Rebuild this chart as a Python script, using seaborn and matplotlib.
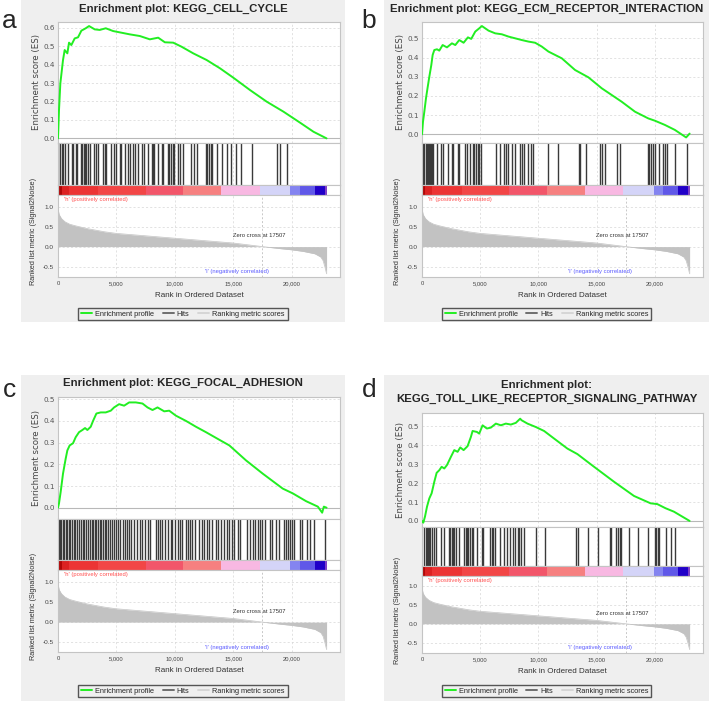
import matplotlib
matplotlib.use("Agg")
import matplotlib.pyplot as plt
import numpy as np
import seaborn as sns
from matplotlib.lines import Line2D
from matplotlib.patches import Rectangle

W, H = 709, 701

PANEL_LABELS = ["a", "b", "c", "d"]
TITLES = [
    "Enrichment plot: KEGG_CELL_CYCLE",
    "Enrichment plot: KEGG_ECM_RECEPTOR_INTERACTION",
    "Enrichment plot: KEGG_FOCAL_ADHESION",
    "Enrichment plot:\nKEGG_TOLL_LIKE_RECEPTOR_SIGNALING_PATHWAY",
]

# running enrichment score
ES_RANK_A = [0, 86, 200, 429, 572, 801, 944, 1144, 1430, 1716, 2002, 2374, 2660, 3146, 3575, 4090,
             4719, 5434, 6149, 7007, 7865, 8580, 9152, 9867, 10582, 11583, 12727, 13871, 15015,
             16445, 17875, 19305, 20735, 21879, 23000]
ES_SCORE_A = [0.0, 0.154, 0.298, 0.425, 0.479, 0.461, 0.519, 0.506, 0.542, 0.548, 0.584, 0.597, 0.609,
              0.591, 0.588, 0.597, 0.582, 0.573, 0.564, 0.555, 0.537, 0.546, 0.521, 0.519, 0.497,
              0.461, 0.425, 0.380, 0.329, 0.262, 0.199, 0.145, 0.085, 0.036, 0.0]

ES_RANK_B = [0, 86, 200, 343, 486, 629, 800, 915, 1058, 1287, 1487, 1773, 2145, 2574, 2860, 3203,
             3575, 3946, 4232, 4575, 4918, 5147, 5719, 6291, 6864, 7436, 8008, 8580, 9152, 9724,
             10296, 10868, 12012, 13156, 14300, 15444, 17160, 18304, 19448, 20020, 20878, 21736,
             22700, 23000]
ES_SCORE_B = [0.0, 0.066, 0.118, 0.188, 0.245, 0.300, 0.361, 0.413, 0.439, 0.443, 0.436, 0.465,
              0.453, 0.474, 0.465, 0.491, 0.477, 0.505, 0.497, 0.535, 0.552, 0.564, 0.540, 0.526,
              0.521, 0.509, 0.500, 0.491, 0.483, 0.477, 0.457, 0.431, 0.396, 0.335, 0.297, 0.240,
              0.170, 0.118, 0.083, 0.071, 0.049, 0.023, -0.016, 0.004]

ES_RANK_C = [0, 86, 229, 429, 658, 801, 1001, 1287, 1516, 1802, 2088, 2317, 2517, 2803, 3003, 3289,
             3661, 4090, 4519, 4805, 5234, 5663, 6092, 6664, 7236, 7665, 8094, 8523, 9095, 9524,
             10096, 10954, 11812, 12670, 13814, 14672, 16102, 17532, 19248, 20106, 21250, 22251,
             22623, 22766, 23000]
ES_SCORE_C = [0.0, 0.020, 0.073, 0.157, 0.226, 0.264, 0.287, 0.297, 0.325, 0.348, 0.358, 0.367,
              0.358, 0.373, 0.400, 0.434, 0.439, 0.439, 0.447, 0.462, 0.477, 0.470, 0.485, 0.485,
              0.480, 0.462, 0.450, 0.462, 0.444, 0.447, 0.424, 0.400, 0.373, 0.348, 0.313, 0.287,
              0.218, 0.157, 0.088, 0.066, 0.030, 0.005, -0.023, 0.005, 0.0]

ES_RANK_D = [0, 114, 257, 429, 629, 829, 1058, 1258, 1487, 1687, 1916, 2145, 2488, 2774, 3060, 3289,
             3575, 3918, 4204, 4347, 4719, 4919, 5205, 5577, 5920, 6349, 6778, 7207, 7636, 8065,
             8437, 8551, 9066, 9781, 10496, 11354, 12498, 13356, 14786, 16502, 18218, 19648,
             20220, 20935, 21650, 23000]
ES_SCORE_D = [0.0, -0.009, 0.023, 0.075, 0.119, 0.146, 0.207, 0.254, 0.268, 0.286, 0.277, 0.295,
              0.339, 0.374, 0.365, 0.388, 0.374, 0.395, 0.444, 0.475, 0.470, 0.461, 0.505, 0.488,
              0.493, 0.514, 0.505, 0.514, 0.509, 0.518, 0.540, 0.532, 0.514, 0.496, 0.475, 0.435,
              0.382, 0.353, 0.286, 0.207, 0.132, 0.093, 0.089, 0.067, 0.049, 0.0]

# gene set members (rank positions)
HITS_A = [28, 170, 312, 454, 596, 880, 1163, 1305, 1504, 1645, 1958, 2071, 2185, 2298, 2440, 2582,
          2724, 3092, 3291, 3433, 3858, 4000, 4142, 4568, 4795, 4993, 5277, 5419, 5703, 5986, 6128,
          6412, 6554, 6837, 7178, 7405, 7688, 8029, 8142, 8256, 8539, 8880, 9022, 9390, 9532, 9674,
          9816, 9958, 10298, 10469, 10667, 11376, 11660, 11944, 12653, 12795, 12937, 13079, 13221,
          13646, 14071, 14497, 14781, 15206, 15632, 16625, 18753, 19036, 19604]
HITS_B = [29, 114, 200, 315, 400, 486, 601, 686, 772, 887, 972, 1258, 1630, 1773, 2259, 2545, 2688,
          3060, 3175, 3689, 3832, 4118, 4404, 4490, 4605, 4776, 4891, 5062, 6321, 6692, 7064, 7179,
          7407, 7751, 7979, 8408, 8609, 8780, 9123, 9409, 9552, 10839, 11697, 13499, 13614, 14071,
          15272, 15501, 15701, 16788, 17046, 19419, 19505, 19705, 19848, 20049, 20335, 20706, 20849,
          21078, 21765, 22794]
HITS_C = [57, 172, 286, 400, 515, 658, 801, 915, 1058, 1201, 1344, 1487, 1630, 1773, 1945, 2116,
          2231, 2431, 2574, 2746, 2917, 3032, 3146, 3289, 3432, 3575, 3718, 3861, 4004, 4147, 4290,
          4462, 4633, 4805, 4976, 5148, 5320, 5577, 5720, 5892, 6063, 6292, 6521, 6807, 7007, 7207,
          7436, 7665, 7865, 8351, 8523, 8723, 8923, 9152, 9438, 9638, 9781, 10010, 10239, 10439,
          10639, 10925, 11097, 11297, 11497, 11726, 12069, 12298, 12527, 12727, 12927, 13156, 13528,
          13728, 13957, 14243, 14443, 14643, 14872, 15101, 15387, 15587, 16216, 16445, 16674, 16874,
          17103, 17274, 17503, 17732, 18161, 18304, 18647, 18933, 19391, 19505, 19677, 19877, 20077,
          20249, 20735, 20935, 21307, 21593, 21965, 22823]
HITS_D = [200, 315, 400, 486, 601, 686, 829, 1030, 1173, 1630, 1916, 2317, 2402, 2545, 2688, 2774,
          2889, 3175, 3632, 3747, 3832, 3975, 4118, 4261, 4404, 4690, 5177, 5262, 5834, 5977, 6120,
          6263, 6692, 7064, 7264, 7550, 7836, 7979, 8208, 8323, 8494, 8780, 9838, 10553, 13270,
          13413, 14271, 15129, 16130, 16273, 16702, 16845, 16988, 17131, 17761, 18561, 19419, 20049,
          20135, 20277, 20392, 20992, 21364, 21707]

# ranked list metric (Signal2Noise), shared by all four panels
METRIC_RANK = [0, 100, 300, 600, 1000, 1500, 2500, 4000, 5000, 7500, 10000, 12500, 15000, 17507,
               19000, 20000, 21000, 22000, 22500, 22700, 22850, 23000]
METRIC_VALUE = [0.95, 0.80, 0.70, 0.62, 0.56, 0.52, 0.45, 0.37, 0.33, 0.27, 0.21, 0.15, 0.09, 0.0,
                -0.05, -0.08, -0.12, -0.18, -0.26, -0.35, -0.50, -0.68]
ZERO_CROSS = 17507

# heat bar along the ranked list
CBAR_EDGES = [0, 300, 900, 3400, 7500, 10700, 14000, 17300, 19900, 20750, 22030, 22860, 23000]
CBAR_COLORS = ["#b00808", "#dc2222", "#ec3434", "#f24646", "#f2566a", "#f68080", "#f8b8e2",
               "#d4d4f8", "#8484f0", "#6058e8", "#2000c8", "#8040c8"]

X_TICKS = [0, 5000, 10000, 15000, 20000]
X_TICK_LABELS = ["0", "5,000", "10,000", "15,000", "20,000"]
METRIC_TICKS = [-0.5, 0.0, 0.5, 1.0]
ES_TICKS = [
    [0.0, 0.1, 0.2, 0.3, 0.4, 0.5, 0.6],
    [0.0, 0.1, 0.2, 0.3, 0.4, 0.5],
    [0.0, 0.1, 0.2, 0.3, 0.4, 0.5],
    [0.0, 0.1, 0.2, 0.3, 0.4, 0.5],
]

ES_RANKS = [ES_RANK_A, ES_RANK_B, ES_RANK_C, ES_RANK_D]
ES_SCORES = [ES_SCORE_A, ES_SCORE_B, ES_SCORE_C, ES_SCORE_D]
HITS = [HITS_A, HITS_B, HITS_C, HITS_D]

# layout of each panel in pixels: background box, title, axes edges
LAYOUT = [
    dict(bg=(21, 0, 345, 322), title_y=9, label=(9, 28), left=58, right=340, es_top=22, es_bottom=143,
         hits_bottom=185, cbar_bottom=195, metric_bottom=277, es_ylim=(-0.025, 0.631),
         metric_ylim=(-0.76, 1.29), legend_y=314),
    dict(bg=(384, 0, 709, 322), title_y=9, label=(369, 28), left=422, right=703, es_top=22,
         es_bottom=143, hits_bottom=185, cbar_bottom=195, metric_bottom=277, es_ylim=(-0.045, 0.585),
         metric_ylim=(-0.76, 1.29), legend_y=314),
    dict(bg=(21, 375, 345, 701), title_y=383, label=(9, 397), left=58, right=340, es_top=397,
         es_bottom=519, hits_bottom=560, cbar_bottom=570, metric_bottom=652, es_ylim=(-0.052, 0.51),
         metric_ylim=(-0.74, 1.29), legend_y=691),
    dict(bg=(384, 375, 709, 701), title_y=392, label=(369, 397), left=422, right=703, es_top=413,
         es_bottom=527, hits_bottom=566, cbar_bottom=576, metric_bottom=653, es_ylim=(-0.032, 0.57),
         metric_ylim=(-0.77, 1.26), legend_y=691),
]

XLIM = (0, 24150)
GRID = dict(color="#d6d6d6", linestyle=(0, (3, 3)), linewidth=0.5)
SPINE = "#c4c4c4"

sns.set_style("white")
plt.rcParams["font.family"] = ["DejaVu Sans"]


def frac(left, top, right, bottom):
    return [left / W, 1 - bottom / H, (right - left) / W, (bottom - top) / H]


def style_axes(ax):
    for spine in ax.spines.values():
        spine.set_color(SPINE)
        spine.set_linewidth(0.8)
    ax.set_xlim(*XLIM)


def draw_panel(fig, i):
    lay = LAYOUT[i]
    x0, y0, x1, y1 = lay["bg"]
    cx = (x0 + x1) / 2
    fig.patches.append(Rectangle((x0 / W, 1 - y1 / H), (x1 - x0) / W, (y1 - y0) / H,
                                 transform=fig.transFigure, facecolor="#efefef", edgecolor="none", zorder=-5))
    fig.text(cx / W, 1 - lay["title_y"] / H, TITLES[i], ha="center", va="center", fontsize=8.2,
             fontweight="bold", family="Liberation Sans", linespacing=1.5)
    fig.text(lay["label"][0] / W, 1 - lay["label"][1] / H, PANEL_LABELS[i], ha="center", va="baseline",
             fontsize=19, family="Liberation Sans")

    left, right = lay["left"], lay["right"]

    # enrichment score
    ax = fig.add_axes(frac(left, lay["es_top"], right, lay["es_bottom"]))
    style_axes(ax)
    ax.set_ylim(*lay["es_ylim"])
    ax.set_xticks(X_TICKS)
    ax.set_xticklabels([])
    ax.set_yticks(ES_TICKS[i])
    ax.set_yticklabels([f"{t:.1f}" for t in ES_TICKS[i]], fontsize=5.2, color="#555555")
    ax.tick_params(length=0, pad=2)
    ax.grid(True, **GRID)
    ax.axhline(0, color="#b8b8b8", lw=0.8, zorder=1)
    sns.lineplot(x=ES_RANKS[i], y=ES_SCORES[i], ax=ax, color="#22ee22", lw=1.4, sort=False,
                 estimator=None, zorder=3)
    ax.set_xlabel("")
    ax.set_ylabel("Enrichment score (ES)", fontsize=6.2, color="#444444", labelpad=2)

    # hits
    axh = fig.add_axes(frac(left, lay["es_bottom"], right, lay["hits_bottom"]))
    style_axes(axh)
    axh.set_ylim(0, 1)
    axh.set_xticks(X_TICKS)
    axh.grid(True, axis="x", **GRID)
    axh.set_yticks([])
    axh.tick_params(length=0, labelbottom=False)
    sns.rugplot(x=HITS[i], ax=axh, height=1, color="#3a3a3a", lw=0.7, expand_margins=False)
    axh.set_xlim(*XLIM)
    axh.set_ylim(0, 1)
    axh.set_xlabel("")

    # ranked list heat bar
    axc = fig.add_axes(frac(left, lay["hits_bottom"], right, lay["cbar_bottom"]))
    style_axes(axc)
    axc.barh(0, np.diff(CBAR_EDGES), left=CBAR_EDGES[:-1], height=1, color=CBAR_COLORS, lw=0)
    axc.set_ylim(-0.5, 0.5)
    axc.set_xticks([])
    axc.set_yticks([])

    # ranked list metric
    axm = fig.add_axes(frac(left, lay["cbar_bottom"], right, lay["metric_bottom"]))
    style_axes(axm)
    axm.set_ylim(*lay["metric_ylim"])
    axm.set_xticks(X_TICKS)
    axm.set_xticklabels(X_TICK_LABELS, fontsize=4.2, color="#444444", family="Liberation Sans")
    axm.set_yticks(METRIC_TICKS)
    axm.set_yticklabels([f"{t:.1f}" for t in METRIC_TICKS], fontsize=4.6, color="#444444",
                        family="Liberation Sans")
    axm.tick_params(length=0, pad=3)
    axm.grid(True, **GRID)
    axm.fill_between(METRIC_RANK, METRIC_VALUE, 0, color="#c2c2c2", lw=0, zorder=2)
    sns.lineplot(x=METRIC_RANK, y=METRIC_VALUE, ax=axm, color="#c2c2c2", lw=0.5, sort=False,
                 estimator=None, zorder=2)
    axm.axvline(ZERO_CROSS, color="#c8c8c8", lw=0.7, linestyle=(0, (2, 2)), zorder=1)
    axm.text(500, lay["metric_ylim"][1] - 0.12, "'h' (positively correlated)", color="#ff5050",
             fontsize=4.2, family="Liberation Sans", va="center", ha="left")
    axm.text(15300, -0.63, "'l' (negatively correlated)", color="#5a5aff", fontsize=4.2,
             family="Liberation Sans", va="center", ha="center")
    axm.text(17200, 0.27, f"Zero cross at {ZERO_CROSS}", color="#333333", fontsize=4.2,
             family="Liberation Sans", va="center", ha="center")
    axm.set_xlabel("Rank in Ordered Dataset", fontsize=5.8, color="#333333", family="Liberation Sans",
                   labelpad=4)
    axm.set_ylabel("Ranked list metric (Signal2Noise)", fontsize=5.2, color="#333333",
                   family="Liberation Sans")
    axm.yaxis.set_label_coords(-0.075, 0.55)

    handles = [Line2D([], [], color="#22ee22", lw=1.4),
               Line2D([], [], color="#6e6e6e", lw=1.4),
               Line2D([], [], color="#d6d6d6", lw=1.4)]
    fig.legend(handles, ["Enrichment profile", "Hits", "Ranking metric scores"], loc="center",
               bbox_to_anchor=(cx / W, 1 - lay["legend_y"] / H), ncol=3, frameon=True, fancybox=False,
               edgecolor="#555555", facecolor="#efefef", framealpha=1,
               prop=dict(family="Liberation Sans", size=5.3), handlelength=1.5, handletextpad=0.4,
               columnspacing=1.2, borderpad=0.35)


fig = plt.figure(figsize=(W / 100, H / 100), dpi=100, facecolor="white")
for i in range(4):
    draw_panel(fig, i)

fig.savefig("out.png", dpi=100, facecolor="white")
